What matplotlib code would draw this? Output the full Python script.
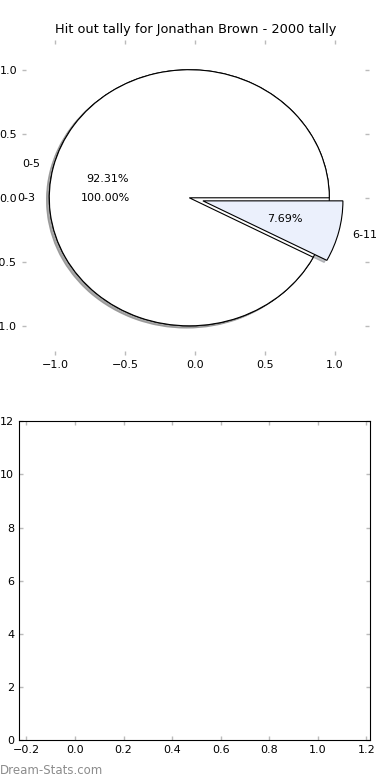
import matplotlib
matplotlib.use('Agg')
import matplotlib.pyplot as plt

# hit out tally data
labels_all = ['0-3']
values_all = [1]
labels_split = ['0-5', '6-11']
values_split = [12, 1]
colors_split = ['white', '#ebf0fc']
explode_split = [0, 0.1]

bottom_ylim = (0, 12)
bottom_xlim = (-0.23, 1.215)

plt.rcParams['font.size'] = 8

fig = plt.figure(figsize=(3.9, 7.8), dpi=100)

# small soft shadow like the original
shadow_opts = {'ox': -0.014, 'oy': -0.012, 'shade': 0.45}

# top: pie chart
ax1 = fig.add_axes([0.056, 0.545, 0.89, 0.404], frameon=False)
ax1.pie(values_all, labels=labels_all, colors=['white'], autopct='%1.2f%%',
        shadow=shadow_opts, center=(-0.04, 0), frame=True,
        wedgeprops={'edgecolor': 'black', 'linewidth': 0.8})
ax1.pie(values_split, labels=labels_split, colors=colors_split,
        explode=explode_split, autopct='%1.2f%%', shadow=shadow_opts,
        center=(-0.04, 0), frame=True,
        wedgeprops={'edgecolor': 'black', 'linewidth': 0.8})
ax1.set_aspect('auto')
ax1.set_xlim(-1.236, 1.243)
ax1.set_ylim(-1.227, 1.234)
ax1.set_xticks([-1.0, -0.5, 0.0, 0.5, 1.0])
ax1.set_yticks([-1.0, -0.5, 0.0, 0.5, 1.0])
ax1.set_xticklabels(['\u22121.0', '\u22120.5', '0.0', '0.5', '1.0'])
ax1.set_yticklabels(['\u22121.0', '\u22120.5', '0.0', '0.5', '1.0'])
ax1.tick_params(direction='in', color='#bbbbbb', length=3, width=1,
                top=True, right=True, labelsize=8)
ax1.set_title('Hit out tally for Jonathan Brown - 2000 tally', fontsize=9.3,
              pad=5)

# bottom: empty axes
ax2 = fig.add_axes([0.049, 0.051, 0.9, 0.409])
ax2.set_xlim(*bottom_xlim)
ax2.set_ylim(*bottom_ylim)
ax2.set_xticks([-0.2, 0.0, 0.2, 0.4, 0.6, 0.8, 1.0, 1.2])
ax2.set_yticks([0, 2, 4, 6, 8, 10, 12])
ax2.tick_params(direction='in', color='#bbbbbb', length=3, width=1,
                top=True, right=True, labelsize=8)

fig.text(0.0, 0.008, 'Dream-Stats.com', color='#8c8c8c', fontsize=8.5)

fig.savefig('out.png', dpi=100)
